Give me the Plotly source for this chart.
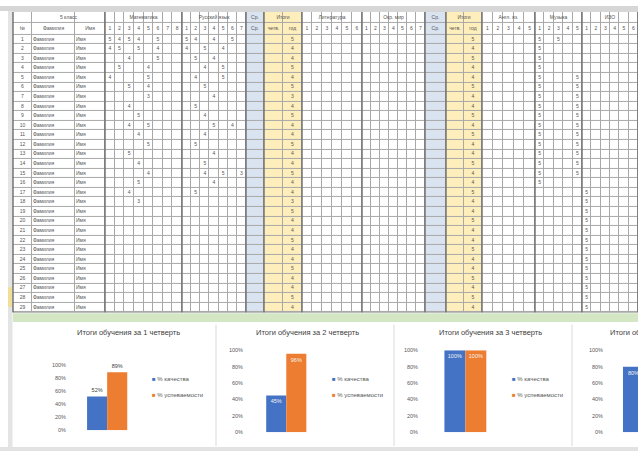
import plotly.graph_objects as go

W, H = 638, 454

# ---------------- chart data ----------------
chart_titles = ["Итоги обучения за 1 четверть", "Итоги обучения за 2 четверть",
                "Итоги обучения за 3 четверть", "Итоги обучения за 4 четверть"]
series_names = ["% качества", "% успеваемости"]
quality = [52, 45, 100, 80]
progress = [89, 96, 100, 100]
y_ticks = [0, 20, 40, 60, 80, 100]
y_tick_labels = ["0%", "20%", "40%", "60%", "80%", "100%"]

# ---------------- sheet data ----------------
row_numbers = [str(i) for i in range(1, 30)]
pupil_names = ["Фамилия"] * 29
pupil_first = ["Имя"] * 29
group_names = ["Математика", "Русский язык", "Ср.", "Итоги", "Литература", "Окр. мир",
               "Ср.", "Итоги", "Англ. яз.", "Музыка", "ИЗО"]
group_subcols = [8, 7, 1, 2, 6, 7, 1, 2, 5, 5, 6]
group_kind = ["w", "w", "b", "y", "w", "w", "b", "y", "w", "w", "w"]
math_marks = ["5454 5  ", "45 5 4  ", "  4  5  ", " 5  4   ", "4   5   ", "  5 4   ",
              "    3   ", "  4     ", "   5    ", "  4 5   ", "   4    ", "    5   ",
              "  5     ", "   4    ", "    4   ", "   5    ", "  4     ", "   3    "]
rus_marks = ["54 4 5 ", "4 5 4  ", " 5 4   ", "  4 5  ", " 4  5  ", "  5    ",
             "   4   ", " 5     ", "  4    ", "   5 4 ", "  4    ", " 5     ",
             "   4   ", "  5    ", "  4 5 3", "   4   ", " 5     "]
term1_marks = ["5", "4", "4", "5", "4", "5", "3", "4", "5", "4", "4", "5", "4", "4", "5",
               "4", "4", "3", "5", "4", "4", "5", "4", "4", "5", "4", "4", "5", "4"]
term2_marks = ["5", "4", "5", "4", "4", "5", "4", "4", "5", "4", "5", "4", "4", "5", "4",
               "4", "5", "4", "4", "5", "4", "4", "5", "4", "4", "5", "4", "5", "4"]
music_marks = ["5 5  ", "5    ", "5    ", "5    ", "5   5", "5   5", "5   5", "5   5",
               "5   5", "5   5", "5   5", "5   5", "5   5", "5   5", "5   5", "5    "]
art_marks = [""] * 16 + ["5     "] * 13

kind_code = {"w": 0, "b": 1, "y": 2}

# ---------------- build sheet columns ----------------
col_h2, col_w, col_code, col_vals, col_left = [], [], [], [], []

def add_col(h2, width, kind, values, left=False):
    col_h2.append(h2)
    col_w.append(width)
    col_code.append(kind_code[kind])
    col_vals.append(values)
    col_left.append(left)

add_col("№", 19, "w", row_numbers)
add_col("Фамилия", 43, "w", pupil_names, True)
add_col("Имя", 30, "w", pupil_first, True)

group_px = [77, 64, 18, 38, 60, 63, 21, 36, 53, 47, 56]
mark_source = {0: math_marks, 1: rus_marks, 9: music_marks, 10: art_marks}
for g, (name, n, kind, gw) in enumerate(zip(group_names, group_subcols, group_kind, group_px)):
    for s in range(n):
        vals = [""] * 29
        if g in mark_source:
            for r, row in enumerate(mark_source[g]):
                if s < len(row) and row[s] != " ":
                    vals[r] = row[s]
        if g == 3 and s == 1:
            vals = term1_marks
        if g == 7 and s == 1:
            vals = term2_marks
        if kind == "b":
            h2 = "Ср."
        elif kind == "y":
            h2 = "четв." if s == 0 else "год"
        else:
            h2 = str(s + 1)
        add_col(h2, gw / n, kind, vals)

ncols = len(col_w)
x0_tab = 13
xb = [x0_tab]
for w in col_w:
    xb.append(xb[-1] + w)

tab_top, hdr_h, row_h = 9, 11.5, 9.7
yb = [tab_top, tab_top + hdr_h, tab_top + 2 * hdr_h]
for r in range(29):
    yb.append(yb[-1] + row_h)
tab_bottom = yb[-1]

# cell colour grid: 2 header rows + 29 data rows
z = [[c for c in col_code] for _ in range(31)]

fig = go.Figure()
fig.add_trace(go.Heatmap(
    x=xb, y=yb, z=z, xaxis="x5", yaxis="y5", zmin=0, zmax=2,
    colorscale=[[0, "#ffffff"], [0.5, "#dae3f0"], [1, "#fdeebb"]],
    xgap=1, ygap=1, showscale=False, hoverinfo="skip"))

# sheet texts
tx_c, ty_c, tt_c, tx_l, ty_l, tt_l = [], [], [], [], [], []
for c in range(ncols):
    cx = (xb[c] + xb[c + 1]) / 2
    for r in range(30):
        txt = col_h2[c] if r == 0 else col_vals[c][r - 1]
        if not txt:
            continue
        cy = (yb[r + 1] + yb[r + 2]) / 2
        if col_left[c] and r > 0:
            tx_l.append(xb[c] + 1)
            ty_l.append(cy)
            tt_l.append(txt)
        else:
            tx_c.append(cx)
            ty_c.append(cy)
            tt_c.append(txt)
# group labels (header row 1)
gb = 3
for g, n in enumerate(group_subcols):
    tx_c.append((xb[gb] + xb[gb + n]) / 2)
    ty_c.append((yb[0] + yb[1]) / 2)
    tt_c.append(group_names[g])
    gb += n
tx_c.append((xb[1] + xb[3]) / 2)
ty_c.append((yb[0] + yb[1]) / 2)
tt_c.append("5 класс")

fig.add_trace(go.Scatter(x=tx_c, y=ty_c, text=tt_c, mode="text", xaxis="x5", yaxis="y5",
                         textposition="middle center", hoverinfo="skip", showlegend=False,
                         textfont=dict(family="Liberation Sans", size=5, color="#555555")))
fig.add_trace(go.Scatter(x=tx_l, y=ty_l, text=tt_l, mode="text", xaxis="x5", yaxis="y5",
                         textposition="middle right", hoverinfo="skip", showlegend=False,
                         textfont=dict(family="Liberation Sans", size=5, color="#555555")))

shapes = []
annotations = []

def px(x):
    return x / W

def py(y):
    return 1 - y / H

# background decorations
shapes.append(dict(type="rect", xref="paper", yref="paper", x0=px(x0_tab - 0.5), x1=px(639),
                   y0=py(tab_bottom + 0.5), y1=py(tab_top - 0.5),
                   fillcolor="#a8a8a8", line_width=0, layer="below"))
shapes.append(dict(type="rect", xref="paper", yref="paper", x0=px(0), x1=px(638), y0=py(3), y1=py(8),
                   fillcolor="#d6d6d6", line_width=0, layer="below"))
shapes.append(dict(type="rect", xref="paper", yref="paper", x0=px(8), x1=px(12.5), y0=py(8), y1=py(451),
                   fillcolor="#e4e4e4", line_width=0, layer="below"))
shapes.append(dict(type="rect", xref="paper", yref="paper", x0=px(8), x1=px(12.5), y0=py(288), y1=py(308),
                   fillcolor="#f1dd9a", line_width=0, layer="below"))
shapes.append(dict(type="rect", xref="paper", yref="paper", x0=px(13), x1=px(638), y0=py(tab_bottom + 1),
                   y1=py(tab_bottom + 10), fillcolor="#d4e7c4", line_width=0, layer="below"))
shapes.append(dict(type="rect", xref="paper", yref="paper", x0=px(0), x1=px(638), y0=py(450), y1=py(454),
                   fillcolor="#e2e2e2", line_width=0, layer="below"))

# thick group separators
gb = 3
for g, n in enumerate(group_subcols + [0]):
    left = xb[gb]
    shapes.append(dict(type="line", xref="paper", yref="paper", x0=px(left), x1=px(left),
                       y0=py(tab_top), y1=py(tab_bottom), line=dict(color="#6e6e6e", width=1.4)))
    gb += n
shapes.append(dict(type="line", xref="paper", yref="paper", x0=px(x0_tab), x1=px(x0_tab),
                   y0=py(tab_top), y1=py(tab_bottom), line=dict(color="#6e6e6e", width=1.4)))

# chart panels
for xs in [216, 394, 572]:
    shapes.append(dict(type="line", xref="paper", yref="paper", x0=px(xs), x1=px(xs),
                       y0=py(326), y1=py(449), line=dict(color="#d9d9d9", width=1)))

# ---------------- bar charts ----------------
blue, orange = "#4472c4", "#ed7d31"
x_dom = [(67, 150), (244, 320), (419, 500), (604, 638)]
x_rng = [(-0.75, 0.8), (-0.79, 0.63), (-0.83, 0.62), (-0.714, -0.107)]
y_dom = [(367, 433), (352, 435), (352, 435), (352, 435)]
title_pos = [(128, 341, "center"), (307, 341, "center"), (490, 341, "center"), (608, 341, "left")]
legend_x = [150, 330, 510]
label_pos = ["outside", "inside", "inside", "inside"]

layout_axes = {
    "xaxis5": dict(domain=[0, 1], range=[0, W], visible=False, fixedrange=True),
    "yaxis5": dict(domain=[0, 1], range=[H, 0], visible=False, fixedrange=True, anchor="x5"),
}
for i in range(4):
    xa = "x" if i == 0 else f"x{i+1}"
    ya = "y" if i == 0 else f"y{i+1}"
    for vals, nm, col in [(quality, series_names[0], blue), (progress, series_names[1], orange)]:
        txtcol = "#404040" if label_pos[i] == "outside" else "#f4f4f4"
        fig.add_trace(go.Bar(
            x=[chart_titles[i]], y=[vals[i]], name=nm, xaxis=xa, yaxis=ya,
            marker=dict(color=col, line=dict(color=col, width=0)),
            text=[f"{vals[i]}%"], textposition=label_pos[i], insidetextanchor="end",
            textfont=dict(family="Liberation Sans", size=5.5, color=txtcol),
            cliponaxis=False, showlegend=False))
    key_x = "xaxis" if i == 0 else f"xaxis{i+1}"
    key_y = "yaxis" if i == 0 else f"yaxis{i+1}"
    layout_axes[key_x] = dict(domain=[px(x_dom[i][0]), px(x_dom[i][1])], range=list(x_rng[i]),
                              showticklabels=False, showgrid=False, zeroline=False,
                              showline=False, anchor=ya, fixedrange=True)
    layout_axes[key_y] = dict(domain=[py(y_dom[i][1]), py(y_dom[i][0])], range=[0, 100],
                              tickvals=y_ticks, ticktext=y_tick_labels, showgrid=False,
                              zeroline=False, showline=False, anchor=xa, ticks="",
                              tickfont=dict(family="Liberation Sans", size=5.5, color="#595959"))
    tx, ty, anc = title_pos[i]
    annotations.append(dict(x=px(tx), y=py(ty), xref="paper", yref="paper", text=chart_titles[i],
                            showarrow=False, xanchor=anc,
                            font=dict(family="Liberation Sans", size=7.5, color="#404040")))
    if i < 3:
        for k, (nm, col) in enumerate([(series_names[0], blue), (series_names[1], orange)]):
            annotations.append(dict(x=px(legend_x[i]), y=py(386 + 16 * k), xref="paper", yref="paper",
                                    xanchor="left", showarrow=False,
                                    text=f"<span style='color:{col}'>■</span> {nm}",
                                    font=dict(family="Liberation Sans", size=6, color="#595959")))

fig.update_layout(
    width=W, height=H, margin=dict(l=0, r=0, t=0, b=0),
    paper_bgcolor="white", plot_bgcolor="rgba(0,0,0,0)",
    barmode="group", bargap=0.25, bargroupgap=0,
    showlegend=False, shapes=shapes, annotations=annotations,
    **layout_axes,
)

fig.write_html("out.html")
